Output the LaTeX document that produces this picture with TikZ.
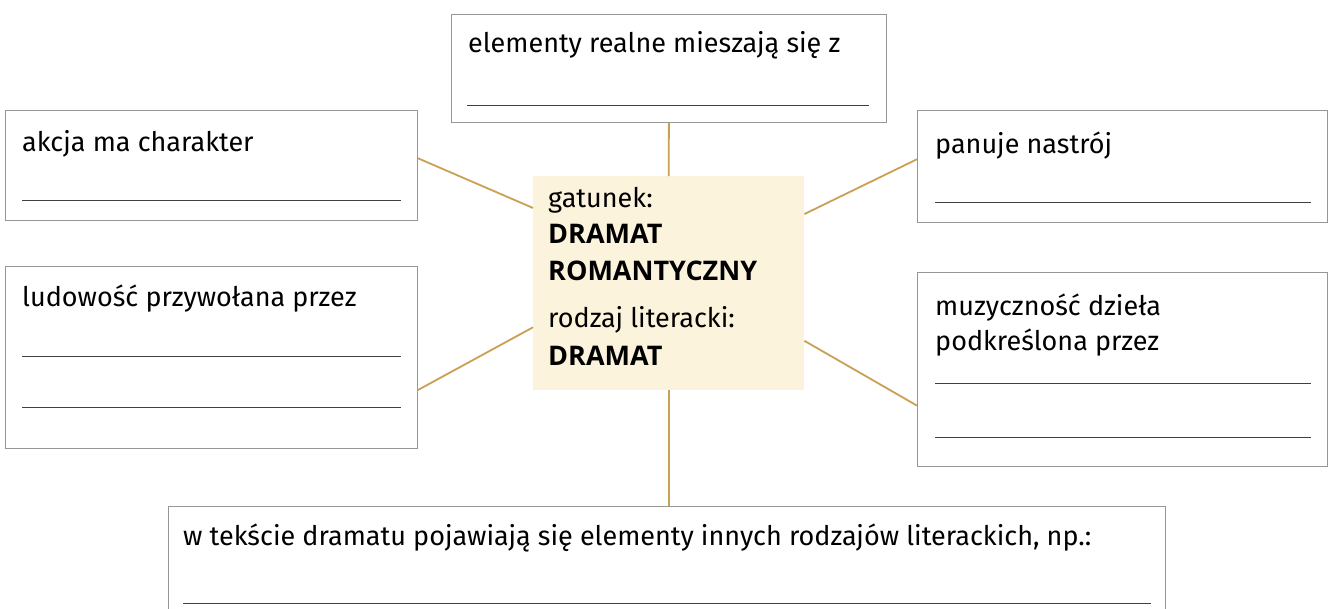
\documentclass[tikz,border=0pt]{standalone}
\usepackage{fontspec}
\setmainfont{Fira Sans}
\newfontfamily\capsfont{Open Sans}
\definecolor{linkgold}{RGB}{201,160,84}
\definecolor{genrefill}{RGB}{251,243,220}
\definecolor{framegray}{RGB}{150,150,150}

\def\txtsize{\fontsize{27}{33}\selectfont}
\def\caps#1{{\capsfont\bfseries #1}}

\begin{document}
\begin{tikzpicture}[x=1pt,y=-1pt,
    frame/.style={draw=framegray,line width=0.8pt,anchor=north west,inner sep=0pt},
    txt/.style={anchor=base west,inner sep=0pt,font=\txtsize},
    answer/.style={draw=black!75,line width=0.9pt},
    link/.style={draw=linkgold,line width=1.8pt},
    genre/.style={fill=genrefill,anchor=north west,inner sep=0pt}]

  \clip (0,0) rectangle (1338,608);
  \fill[white] (0,0) rectangle (1338,608);

  % ramki z liniami do uzupelnienia
  \node[frame,minimum width=435,minimum height=108] (real) at (451,14) {};
  \node[txt] (realtxt) at (468,52) {elementy realne mieszają się z};
  \draw[answer] ([xshift=16,yshift=17]real.south west) -- ([xshift=-18,yshift=17]real.south east);

  \node[frame,minimum width=412,minimum height=110] (akcja) at (5,110) {};
  \node[txt] (akcjatxt) at (22,151) {akcja ma charakter};
  \draw[answer] ([xshift=17,yshift=20]akcja.south west) -- ([xshift=-17,yshift=20]akcja.south east);

  \node[frame,minimum width=410,minimum height=112] (nastroj) at (917,110) {};
  \node[txt] (nastrojtxt) at (935,153) {panuje nastrój};
  \draw[answer] ([xshift=18,yshift=20]nastroj.south west) -- ([xshift=-17,yshift=20]nastroj.south east);

  \node[frame,minimum width=412,minimum height=182] (ludowosc) at (5,266) {};
  \node[txt] (ludowosctxt) at (22,306) {ludowość przywołana przez};
  \draw[answer] ([xshift=17,yshift=92]ludowosc.south west) -- ([xshift=-17,yshift=92]ludowosc.south east);
  \draw[answer] ([xshift=17,yshift=41]ludowosc.south west) -- ([xshift=-17,yshift=41]ludowosc.south east);

  \node[frame,minimum width=410,minimum height=194] (muzyka) at (917,272) {};
  \node[txt] (muzykatxt) at (935,315) {muzyczność dzieła};
  \node[txt] (muzykatxtb) at (935,350) {podkreślona przez};
  \draw[answer] ([xshift=18,yshift=83]muzyka.south west) -- ([xshift=-17,yshift=83]muzyka.south east);
  \draw[answer] ([xshift=18,yshift=29]muzyka.south west) -- ([xshift=-17,yshift=29]muzyka.south east);

  \node[frame,minimum width=997,minimum height=130] (inne) at (168,506) {};
  \node[txt] (innetxt) at (183,545) {w tekście dramatu pojawiają się elementy innych rodzajów literackich, np.:};
  \draw[answer] ([xshift=15,yshift=-97]inne.north west) -- ([xshift=-15,yshift=-97]inne.north east);

  % srodek
  \node[genre,minimum width=271,minimum height=214] (genre) at (533,176) {};
  \node[txt] (gatunek) at (548,207) {gatunek:};
  \node[txt] (gatunekA) at (548,243) {\caps{DRAMAT}};
  \node[txt] (gatunekB) at (548,280) {\caps{ROMANTYCZNY}};
  \node[txt] (rodzaj) at (548,327) {rodzaj literacki:};
  \node[txt] (rodzajA) at (548,365) {\caps{DRAMAT}};

  % polaczenia
  \draw[link] (real.south) -- (genre.north);
  \draw[link] (genre.south) -- (genre.south |- inne.north);
  \draw[link] (akcja.2.2) -- (genre.151.4);
  \draw[link] (ludowosc.-9.6) -- (genre.-162.8);
  \draw[link] (nastroj.178.6) -- (genre.27);
  \draw[link] (muzyka.-170.9) -- (genre.-23.9);
\end{tikzpicture}
\end{document}
